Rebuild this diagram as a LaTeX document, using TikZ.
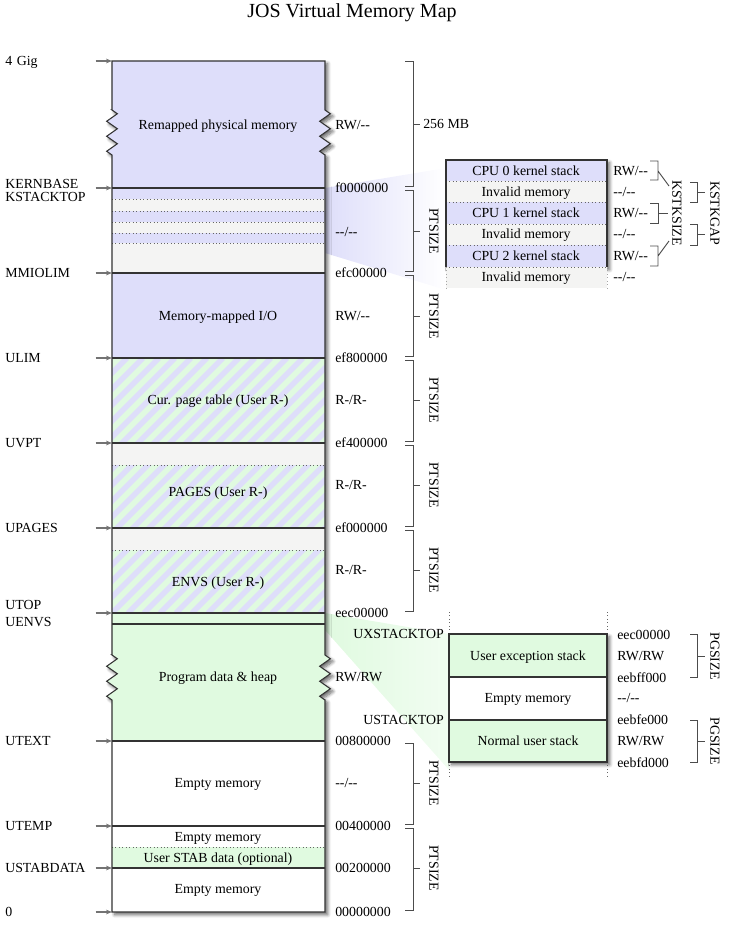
\documentclass[tikz,border=0pt]{standalone}
\usepackage{fontspec}
\setmainfont{Liberation Serif}
\usetikzlibrary{arrows.meta,shadows.blur,decorations.pathmorphing,positioning}

\definecolor{memblue}{RGB}{222,222,250}
\definecolor{memgray}{RGB}{244,244,243}
\definecolor{memgreen}{RGB}{224,250,224}

\tikzset{
  every node/.style={inner sep=0pt,text height=7.5pt,text depth=1.5pt},
  boxline/.style={draw=black!80,line width=0.8pt},
  sep/.style={draw=black!60,dotted,line width=0.6pt},
  brace/.style={draw=black!70,line width=0.7pt},
  jag/.style={decoration={zigzag,segment length=11.25pt,amplitude=4pt}},
  mapshadow/.style={blur shadow={shadow xshift=2pt,shadow yshift=-2pt,
      shadow blur radius=2.5pt,shadow opacity=60,shadow blur steps=8}},
  addrarrow/.style={draw=black!55,line width=0.8pt,-{Stealth[length=4.5pt,width=3.5pt]}},
  leftlbl/.style={anchor=west,text width=67.5pt,align=left},
  addr/.style={anchor=west},
  sizelabel/.style={rotate=-90,anchor=south},
}

% outline of the main column, with the two jagged cuts
\newcommand{\mapoutline}{(112,61) -- (325,61) -- (325,110)
  decorate[jag] {-- (325,155)} -- (325,655) decorate[jag] {-- (325,700)}
  -- (325,912) -- (112,912) -- (112,700) decorate[jag] {-- (112,655)}
  -- (112,155) decorate[jag] {-- (112,110)} -- cycle}

\begin{document}
\begin{tikzpicture}[x=0.75pt,y=-0.75pt,font=\fontsize{10.4}{12}\selectfont]
\useasboundingbox (0,0) rectangle (730,926);

%%%% Title
\node[font=\fontsize{15}{18}\selectfont,text height=11pt,text depth=3pt] (title) at (352,12) {JOS Virtual Memory Map};

%%%% Zoom shadings
\shade[left color=memblue,right color=white] (325,188) -- (446,168) -- (446,290) -- (325,253) -- cycle;
\shade[left color=memgreen,right color=memgreen!45!white] (325,613) -- (449,634) -- (449,770) -- (325,630) -- cycle;

%%%% Main column: shadow and fills
\path[mapshadow,fill=white] \mapoutline;
\begin{scope}
  \clip \mapoutline;
  \fill[memblue] (90,61) rectangle (345,188);
  \fill[memblue] (90,188) rectangle (345,199);
  \fill[memgray] (90,199) rectangle (345,211);
  \fill[memblue] (90,211) rectangle (345,222);
  \fill[memgray] (90,222) rectangle (345,233);
  \fill[memblue] (90,233) rectangle (345,243);
  \fill[memgray] (90,243) rectangle (345,273);
  \fill[memblue] (90,273) rectangle (345,358);
  \fill[memgray] (90,443) rectangle (345,465);
  \fill[memgray] (90,528) rectangle (345,550);
  \fill[memgreen] (90,613) rectangle (345,741);
  \fill[memgreen] (90,847) rectangle (345,868);
\end{scope}
%%%% Hatched (user read-only) areas
\begin{scope}
  \clip (112,358) rectangle (325,443) (112,465) rectangle (325,528) (112,550) rectangle (325,613);
  \fill[memgreen] (112,358) rectangle (325,613);
  \foreach \s in {-160,-144,...,340}
    \draw[memblue,line width=4.2pt] (\s,613) -- ++(255,-255);
\end{scope}

%%%% Boundaries
\draw[sep] (112,199) -- (325,199) (112,211) -- (325,211) (112,222) -- (325,222)
  (112,233) -- (325,233) (112,243) -- (325,243) (112,465) -- (325,465)
  (112,550) -- (325,550) (112,847) -- (325,847);
\draw[boxline] (112,188) -- (325,188) (112,273) -- (325,273) (112,358) -- (325,358)
  (112,443) -- (325,443) (112,528) -- (325,528) (112,613) -- (325,613)
  (112,624) -- (325,624) (112,741) -- (325,741) (112,826) -- (325,826)
  (112,868) -- (325,868);
\draw[boxline] \mapoutline;

%%%% Region labels
\node (remap) at (218,125) {Remapped physical memory};
\node (mmio) at (218,316) {Memory-mapped I/O};
\node (curpt) at (218,400) {Cur. page table (User R-)};
\node (pages) at (218,492) {PAGES (User R-)};
\node (envs) at (218,582) {ENVS (User R-)};
\node (heap) at (218,677) {Program data \& heap};
\node (emptyA) at (218,783) {Empty memory};
\node (emptyB) at (218,837) {Empty memory};
\node (stab) at (218,858) {User STAB data (optional)};
\node (emptyC) at (218,889) {Empty memory};

%%%% Left: symbolic addresses
\coordinate (lTop) at (112,61);
\coordinate (lKernbase) at (112,188);
\coordinate (lMmiolim) at (112,273);
\coordinate (lUlim) at (112,358);
\coordinate (lUvpt) at (112,443);
\coordinate (lUpages) at (112,528);
\coordinate (lUtop) at (112,613);
\coordinate (lUtext) at (112,741);
\coordinate (lUtemp) at (112,826);
\coordinate (lUstab) at (112,868);
\coordinate (lZero) at (112,912);
\node[leftlbl] (fourgig) at (5,61) {4 Gig};
\node[leftlbl] (kernbase) at (5,184) {KERNBASE};
\node[leftlbl] (kstacktop) at (5,197) {KSTACKTOP};
\node[leftlbl] (mmiolim) at (5,273) {MMIOLIM};
\node[leftlbl] (ulim) at (5,358) {ULIM};
\node[leftlbl] (uvpt) at (5,443) {UVPT};
\node[leftlbl] (upages) at (5,528) {UPAGES};
\node[leftlbl] (utop) at (5,605) {UTOP};
\node[leftlbl] (uenvs) at (5,622) {UENVS};
\node[leftlbl] (utext) at (5,741) {UTEXT};
\node[leftlbl] (utemp) at (5,826) {UTEMP};
\node[leftlbl] (ustabdata) at (5,868) {USTABDATA};
\node[leftlbl] (zero) at (5,912) {0};
\draw[addrarrow] (fourgig.east) -- (lTop);
\draw[addrarrow] (kernbase.east |- lKernbase) -- (lKernbase);
\draw[addrarrow] (mmiolim.east) -- (lMmiolim);
\draw[addrarrow] (ulim.east) -- (lUlim);
\draw[addrarrow] (uvpt.east) -- (lUvpt);
\draw[addrarrow] (upages.east) -- (lUpages);
\draw[addrarrow] (utop.east |- lUtop) -- (lUtop);
\draw[addrarrow] (utext.east) -- (lUtext);
\draw[addrarrow] (utemp.east) -- (lUtemp);
\draw[addrarrow] (ustabdata.east) -- (lUstab);
\draw[addrarrow] (zero.east) -- (lZero);

%%%% Right: addresses and permissions
\node[addr] (pRemap) at (335,125) {RW/-{}-};
\node[addr] (vaKernbase) at (335,188) {f0000000};
\node[addr] (pKstack) at (335,232) {-{}-/-{}-};
\node[addr] (vaMmiolim) at (335,273) {efc00000};
\node[addr] (pMmio) at (335,316) {RW/-{}-};
\node[addr] (vaUlim) at (335,358) {ef800000};
\node[addr] (pCurpt) at (335,400) {R-/R-};
\node[addr] (vaUvpt) at (335,443) {ef400000};
\node[addr] (pPages) at (335,485) {R-/R-};
\node[addr] (vaUpages) at (335,528) {ef000000};
\node[addr] (pEnvs) at (335,570) {R-/R-};
\node[addr] (vaUtop) at (335,613) {eec00000};
\node[addr] (pHeap) at (335,677) {RW/RW};
\node[addr] (vaUtext) at (335,741) {00800000};
\node[addr] (pEmpty) at (335,783) {-{}-/-{}-};
\node[addr] (vaUtemp) at (335,826) {00400000};
\node[addr] (vaUstab) at (335,868) {00200000};
\node[addr] (vaZero) at (335,912) {00000000};

%%%% Size brackets
\draw[brace] (405,61) -- (413,61) -- (413,186) -- (405,186) (413,124) -- (420,124);
\node[addr] (mb) at (423,124) {256 MB};
\draw[brace] (405,190) -- (413,190) -- (413,271) -- (405,271) (413,231) -- (420,231);
\node[sizelabel] (ptA) at (427,231) {PTSIZE};
\draw[brace] (405,275) -- (413,275) -- (413,356) -- (405,356) (413,316) -- (420,316);
\node[sizelabel] (ptB) at (427,316) {PTSIZE};
\draw[brace] (405,360) -- (413,360) -- (413,441) -- (405,441) (413,400) -- (420,400);
\node[sizelabel] (ptC) at (427,400) {PTSIZE};
\draw[brace] (405,445) -- (413,445) -- (413,526) -- (405,526) (413,485) -- (420,485);
\node[sizelabel] (ptD) at (427,485) {PTSIZE};
\draw[brace] (405,530) -- (413,530) -- (413,611) -- (405,611) (413,570) -- (420,570);
\node[sizelabel] (ptE) at (427,570) {PTSIZE};
\draw[brace] (405,743) -- (413,743) -- (413,824) -- (405,824) (413,783) -- (420,783);
\node[sizelabel] (ptF) at (427,783) {PTSIZE};
\draw[brace] (405,828) -- (413,828) -- (413,910) -- (405,910) (413,868) -- (420,868);
\node[sizelabel] (ptG) at (427,868) {PTSIZE};

%%%% Kernel stacks (zoomed)
\path[mapshadow,fill=white] (446,160) rectangle (607,267);
\fill[memblue] (446,160) rectangle (607,181);
\fill[memgray] (446,181) rectangle (607,202);
\fill[memblue] (446,202) rectangle (607,224);
\fill[memgray] (446,224) rectangle (607,245);
\fill[memblue] (446,245) rectangle (607,267);
\fill[memgray] (446,267) rectangle (607,288);
\draw[sep] (446,181) -- (607,181) (446,202) -- (607,202) (446,224) -- (607,224)
  (446,245) -- (607,245) (446,267) -- (607,267);
\draw[sep,draw=black!35] (446,267) -- (446,288) (607,267) -- (607,288);
\draw[boxline] (446,267) -- (446,160) -- (607,160) -- (607,267);
\node (cpu0) at (526,171) {CPU 0 kernel stack};
\node (invA) at (526,192) {Invalid memory};
\node (cpu1) at (526,213) {CPU 1 kernel stack};
\node (invB) at (526,234) {Invalid memory};
\node (cpu2) at (526,256) {CPU 2 kernel stack};
\node (invC) at (526,277) {Invalid memory};
\node[addr] (pCpu0) at (613,171) {RW/-{}-};
\node[addr] (pInvA) at (613,192) {-{}-/-{}-};
\node[addr] (pCpu1) at (613,213) {RW/-{}-};
\node[addr] (pInvB) at (613,234) {-{}-/-{}-};
\node[addr] (pCpu2) at (613,256) {RW/-{}-};
\node[addr] (pInvC) at (613,277) {-{}-/-{}-};
\draw[brace] (650,161) -- (658,161) -- (658,180) -- (650,180) (658,171) -- (669,186);
\draw[brace] (650,203) -- (658,203) -- (658,223) -- (650,223) (658,213) -- (668,213);
\draw[brace] (650,246) -- (658,246) -- (658,266) -- (650,266) (658,256) -- (669,241);
\node[sizelabel] (kstksize) at (670,213) {KSTKSIZE};
\draw[brace] (690,182) -- (697,182) -- (697,202) -- (690,202) (697,192) -- (705,192);
\draw[brace] (690,224) -- (697,224) -- (697,245) -- (690,245) (697,234) -- (705,234);
\node[sizelabel] (kstkgap) at (708,213) {KSTKGAP};

%%%% User stacks (zoomed)
\path[mapshadow,fill=white] (449,634) rectangle (607,762);
\fill[memgreen] (449,634) rectangle (607,677);
\fill[memgreen] (449,720) rectangle (607,762);
\draw[sep] (449,612) -- (449,634) (607,612) -- (607,634) (449,762) -- (449,776) (607,762) -- (607,776);
\draw[boxline] (449,634) rectangle (607,762) (449,677) -- (607,677) (449,720) -- (607,720);
\node (uxstack) at (528,656) {User exception stack};
\node (uempty) at (528,698) {Empty memory};
\node (ustack) at (528,741) {Normal user stack};
\node[anchor=east] (uxstacktop) at (444,634) {UXSTACKTOP};
\node[anchor=east] (ustacktop) at (444,720) {USTACKTOP};
\node[addr] (vaUxtop) at (617,635) {eec00000};
\node[addr] (pUx) at (617,656) {RW/RW};
\node[addr] (vaUxbot) at (617,678) {eebff000};
\node[addr] (pUempty) at (617,698) {-{}-/-{}-};
\node[addr] (vaUstop) at (617,720) {eebfe000};
\node[addr] (pUs) at (617,741) {RW/RW};
\node[addr] (vaUsbot) at (617,763) {eebfd000};
\draw[brace] (690,634) -- (697,634) -- (697,677) -- (690,677) (697,656) -- (705,656);
\node[sizelabel] (pgA) at (708,656) {PGSIZE};
\draw[brace] (690,720) -- (697,720) -- (697,762) -- (690,762) (697,741) -- (705,741);
\node[sizelabel] (pgB) at (708,741) {PGSIZE};
\end{tikzpicture}
\end{document}
